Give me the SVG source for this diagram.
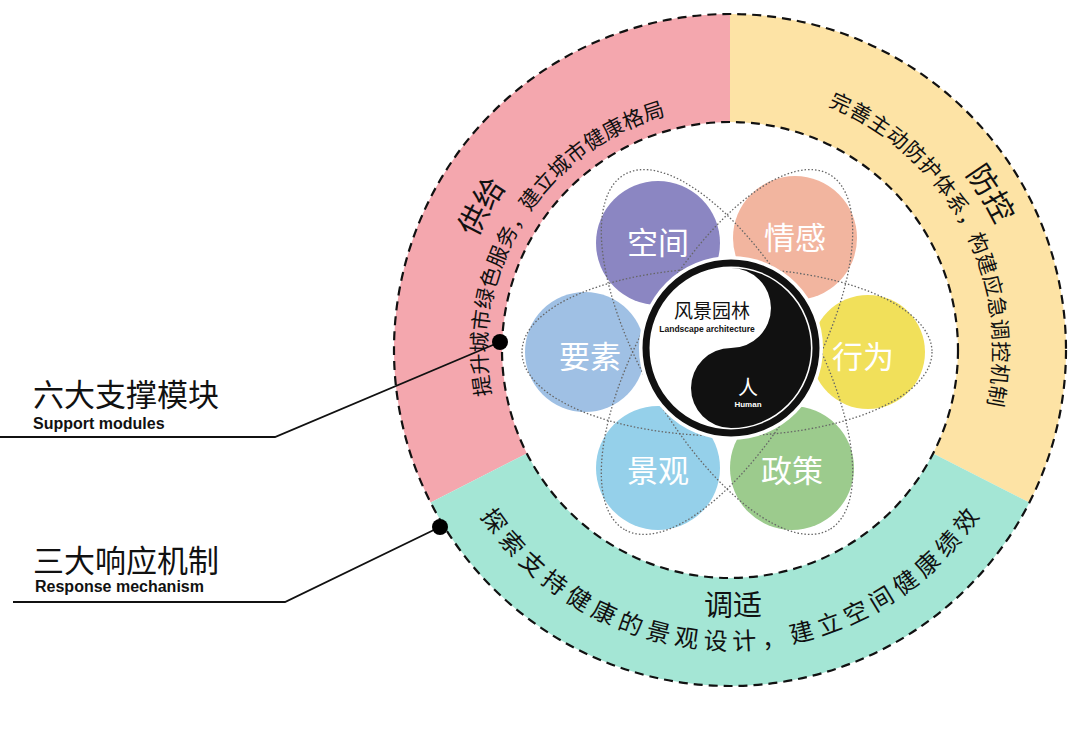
<svg xmlns="http://www.w3.org/2000/svg" xmlns:xlink="http://www.w3.org/1999/xlink" width="1080" height="734" viewBox="0 0 1080 734">
<style>
.cn{font-family:"Noto Sans CJK SC","Noto Sans",sans-serif}
.en{font-family:"Liberation Sans",Arial,sans-serif;font-weight:bold}
.dash{fill:none;stroke:#111;stroke-width:2.2;stroke-dasharray:9 6}
.dot{fill:none;stroke:#666;stroke-width:1.3;stroke-dasharray:1.5 2}
.petal text{fill:#fff;font-size:31px;text-anchor:middle}
.arc{fill:#111;text-anchor:middle}
</style>
<defs>
<path id="pS" d="M501.7,433.1 A243,243 0 0 1 704.6,108.3"/>
<path id="pB" d="M453,350 A277,277 0 0 1 591.5,110.1"/>
<path id="yS" d="M784.7,92.8 A263,263 0 0 1 973.9,448.5"/>
<path id="yB" d="M872.5,92.9 A294,294 0 0 1 1024,344.9"/>
<path id="gS" d="M448.1,452.6 A300,300 0 0 0 1011.9,452.6"/>
</defs>
<rect width="1080" height="734" fill="#fff"/>
<g id="ring">
<path d="M730,14 A336,336 0 0 0 430.6,502.5 L526.9,453.5 A228,228 0 0 1 730,122 Z" fill="#f4a7ae"/>
<path d="M730,14 A336,336 0 0 1 1029.4,502.5 L933.1,453.5 A228,228 0 0 0 730,122 Z" fill="#fde3a5"/>
<path d="M430.6,502.5 A336,336 0 0 0 1029.4,502.5 L933.1,453.5 A228,228 0 0 1 526.9,453.5 Z" fill="#a4e6d5"/>
<circle cx="730" cy="350" r="336" class="dash"/>
<circle cx="730" cy="350" r="228" class="dash"/>
<text class="cn arc" font-size="21"><textPath xlink:href="#pS" startOffset="50%" textLength="362">提升城市绿色服务，建立城市健康格局</textPath></text>
<text class="cn arc" font-size="30"><textPath xlink:href="#pB" startOffset="50%">供给</textPath></text>
<text class="cn arc" font-size="21"><textPath xlink:href="#yS" startOffset="50%" textLength="368">完善主动防护体系，构建应急调控机制</textPath></text>
<text class="cn arc" font-size="30"><textPath xlink:href="#yB" startOffset="50%">防控</textPath></text>
<text class="cn arc" font-size="24"><textPath xlink:href="#gS" startOffset="50%" textLength="590">探索支持健康的景观设计，建立空间健康绩效</textPath></text>
<text class="cn" x="733" y="616" font-size="29" text-anchor="middle" fill="#111">调适</text>
</g>
<g id="petals" class="cn">
<g id="n-kongjian" class="petal"><circle cx="658" cy="243" r="62" fill="#8b86c2"/><text x="658" y="254">空间</text></g>
<g id="n-qinggan" class="petal"><circle cx="795" cy="238" r="62" fill="#f2b59f"/><text x="795" y="249">情感</text></g>
<g id="n-yaosu" class="petal"><circle cx="585" cy="352" r="60" fill="#9fc0e4"/><text x="590" y="368">要素</text></g>
<g id="n-xingwei" class="petal"><circle cx="868" cy="352" r="57" fill="#f1e05a"/><text x="863" y="368">行为</text></g>
<g id="n-jingguan" class="petal"><circle cx="658" cy="468" r="62" fill="#95d0ea"/><text x="658" y="482">景观</text></g>
<g id="n-zhengce" class="petal"><circle cx="792" cy="468" r="62" fill="#9ccb8d"/><text x="792" y="482">政策</text></g>
</g>
<g id="orbits">
<ellipse cx="727" cy="352" rx="205" ry="84" class="dot"/>
<ellipse cx="727" cy="352" rx="205" ry="84" class="dot" transform="rotate(60 727 352)"/>
<ellipse cx="727" cy="352" rx="205" ry="84" class="dot" transform="rotate(120 727 352)"/>
</g>
<g id="center">
<circle cx="731" cy="348" r="92" fill="#fff"/>
<circle cx="731" cy="348" r="85" fill="#fff" stroke="#111" stroke-width="7"/>
<path d="M731,268 A80,80 0 0 1 731,428 A40,40 0 0 1 731,348 A40,40 0 0 0 731,268 Z" fill="#111"/>
<text class="cn" x="712" y="318" font-size="19" text-anchor="middle" fill="#111">风景园林</text>
<text class="en" x="707" y="332" font-size="8.5" text-anchor="middle" fill="#111">Landscape architecture</text>
<text class="cn" x="748" y="395" font-size="20" text-anchor="middle" fill="#fff">人</text>
<text class="en" x="748" y="407" font-size="8" text-anchor="middle" fill="#fff">Human</text>
</g>
<g id="connectors" fill="none" stroke="#111" stroke-width="1.8">
<polyline points="0,437 275,437 500,342"/>
<polyline points="13,602 285,602 440,527"/>
<circle cx="500" cy="342" r="8" fill="#000" stroke="none"/>
<circle cx="440" cy="527" r="8" fill="#000" stroke="none"/>
</g>
<g id="labels">
<text class="cn" x="33" y="406" font-size="31" fill="#111">六大支撑模块</text>
<text class="en" x="33" y="429" font-size="16" fill="#111">Support modules</text>
<text class="cn" x="33" y="572" font-size="31" fill="#111">三大响应机制</text>
<text class="en" x="35" y="592" font-size="16" fill="#111">Response mechanism</text>
</g>
</svg>
